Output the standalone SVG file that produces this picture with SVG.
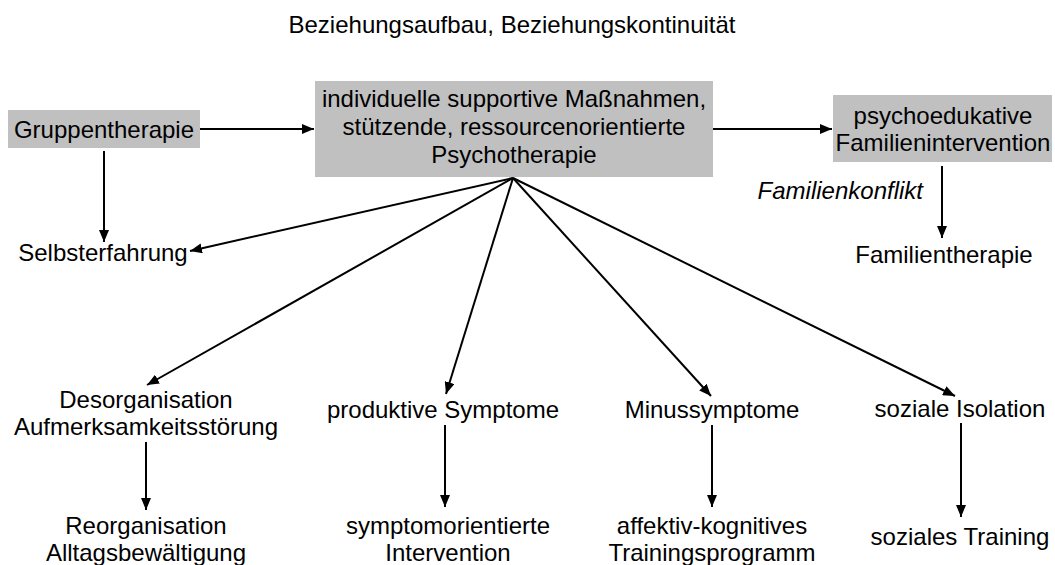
<svg xmlns="http://www.w3.org/2000/svg" width="1055" height="565" viewBox="0 0 1055 565">
  <defs>
    <marker id="ah" viewBox="0 0 12 10" refX="12" refY="5" markerWidth="12" markerHeight="10" markerUnits="userSpaceOnUse" orient="auto">
      <path d="M0,0 L12,5 L0,10 Z" fill="#000"/>
    </marker>
    <style>
      text { font-family: "Liberation Sans", Arial, sans-serif; font-size: 24px; fill: #000; text-anchor: middle; }
      .lbl { font-style: italic; text-anchor: end; }
      .box { fill: #c0c0c0; stroke: none; }
      .c { stroke: #000; stroke-width: 2; fill: none; marker-end: url(#ah); }
    </style>
  </defs>
  <rect width="1055" height="565" fill="#fff"/>

  <g id="title">
    <text x="512" y="33">Beziehungsaufbau, Beziehungskontinuität</text>
  </g>

  <g id="connectors">
    <line class="c" x1="200" y1="129" x2="314" y2="129"/>
    <line class="c" x1="713" y1="129" x2="832" y2="129"/>
    <line class="c" x1="104" y1="151" x2="104" y2="242"/>
    <line class="c" x1="942" y1="166" x2="942" y2="238"/>
    <line class="c" x1="513" y1="178" x2="190" y2="251"/>
    <line class="c" x1="513" y1="178" x2="147" y2="385"/>
    <line class="c" x1="513" y1="178" x2="446" y2="394"/>
    <line class="c" x1="513" y1="178" x2="711" y2="396"/>
    <line class="c" x1="513" y1="178" x2="955" y2="396"/>
    <line class="c" x1="146" y1="442" x2="146" y2="510"/>
    <line class="c" x1="445" y1="425" x2="445" y2="507"/>
    <line class="c" x1="712" y1="425" x2="712" y2="507"/>
    <line class="c" x1="961" y1="423" x2="961" y2="517"/>
    <text class="lbl" x="923" y="199">Familienkonflikt</text>
  </g>

  <g id="gruppentherapie">
    <rect class="box" x="8" y="110" width="192" height="38"/>
    <text x="104" y="138">Gruppentherapie</text>
  </g>

  <g id="individuelle">
    <rect class="box" x="315" y="81" width="398" height="96"/>
    <text x="514" y="107">individuelle supportive Maßnahmen,</text>
    <text x="514" y="135">stützende, ressourcenorientierte</text>
    <text x="514" y="163">Psychotherapie</text>
  </g>

  <g id="psychoedukative">
    <rect class="box" x="833" y="95" width="219" height="67"/>
    <text x="943" y="124">psychoedukative</text>
    <text x="943" y="151">Familienintervention</text>
  </g>

  <g id="selbsterfahrung">
    <text x="103" y="261">Selbsterfahrung</text>
  </g>

  <g id="familientherapie">
    <text x="944" y="263">Familientherapie</text>
  </g>

  <g id="desorganisation">
    <text x="146" y="408">Desorganisation</text>
    <text x="146" y="435">Aufmerksamkeitsstörung</text>
  </g>

  <g id="produktive">
    <text x="443" y="418">produktive Symptome</text>
  </g>

  <g id="minussymptome">
    <text x="712" y="418">Minussymptome</text>
  </g>

  <g id="soziale-isolation">
    <text x="960" y="417">soziale Isolation</text>
  </g>

  <g id="reorganisation">
    <text x="146" y="534">Reorganisation</text>
    <text x="146" y="561">Alltagsbewältigung</text>
  </g>

  <g id="symptomorientierte">
    <text x="448" y="534">symptomorientierte</text>
    <text x="448" y="561">Intervention</text>
  </g>

  <g id="affektiv">
    <text x="712" y="534">affektiv-kognitives</text>
    <text x="712" y="561">Trainingsprogramm</text>
  </g>

  <g id="soziales-training">
    <text x="960" y="545">soziales Training</text>
  </g>
</svg>
